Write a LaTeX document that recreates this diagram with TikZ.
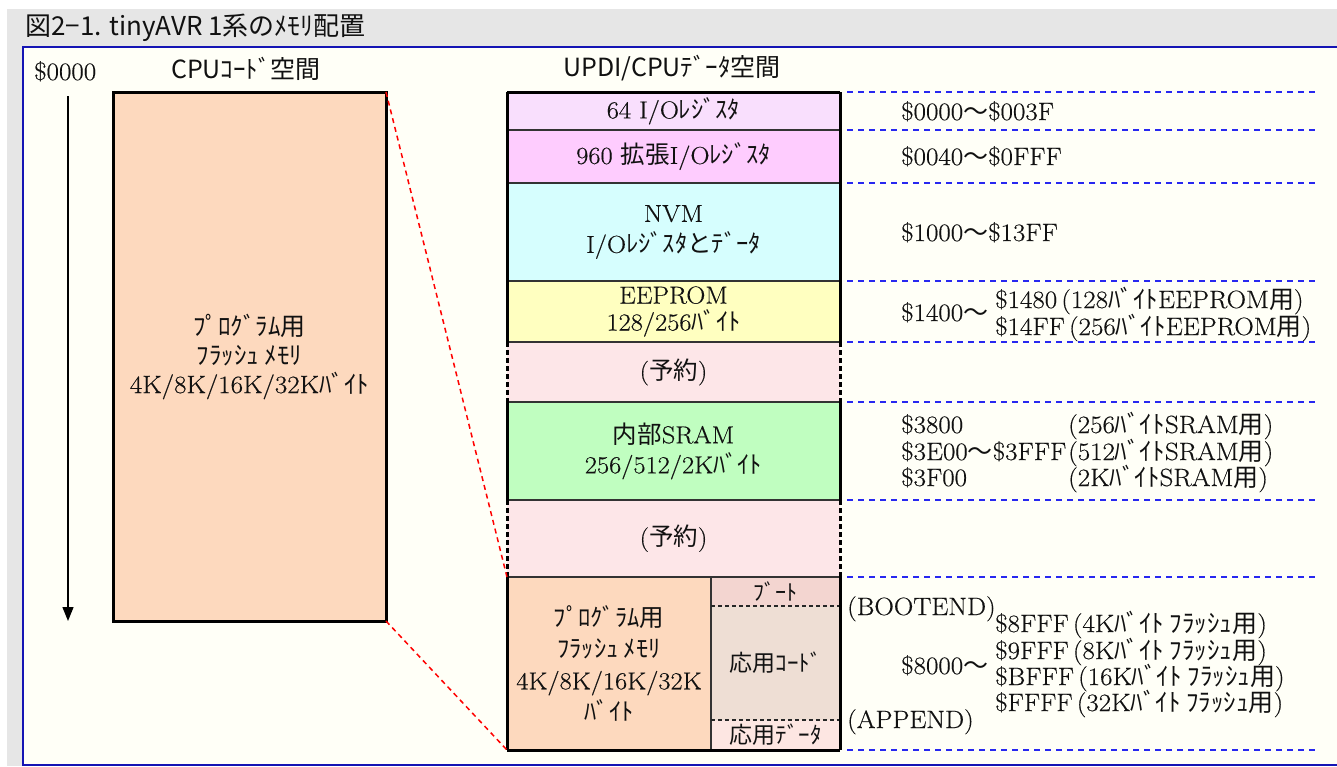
\documentclass[tikz,border=0pt]{standalone}
\usepackage{fontspec}
\setmainfont{Latin Modern Roman}[FakeStretch=1.08,FakeBold=0.4]
\newfontfamily\jpfont{Noto Sans CJK JP}
\usetikzlibrary{arrows.meta}
\newcommand\jpt[1]{{\jpfont #1}}
\newcommand\fsz[2]{\fontsize{#1}{#2}\selectfont}
\definecolor{bggray}{HTML}{E6E6E6}
\definecolor{panelc}{HTML}{FFFFF7}
\definecolor{framec}{HTML}{1414B4}
\definecolor{peach}{HTML}{FDD9BE}
\definecolor{cio}{HTML}{F9DFFD}
\definecolor{cext}{HTML}{FECCFE}
\definecolor{cnvm}{HTML}{D6FEFE}
\definecolor{ceep}{HTML}{FFFFC0}
\definecolor{crsv}{HTML}{FDE6E8}
\definecolor{csram}{HTML}{C0FEC0}
\definecolor{cboot}{HTML}{F3D5D0}
\definecolor{cappc}{HTML}{EEDED4}
\definecolor{cappd}{HTML}{FDE6E2}
\definecolor{guidec}{HTML}{2828F0}
\definecolor{txt}{HTML}{111111}
\begin{document}
\begin{tikzpicture}[x=1pt,y=-1pt,
  blk/.style={inner sep=0pt, outer sep=0pt, anchor=north west, text=txt, align=center, font=\fsz{24.5}{30}},
  sepln/.style={draw=black!80, line width=2pt},
  outerln/.style={draw=black, line width=3pt},
  rsvln/.style={draw=black, line width=3pt, dash pattern=on 5pt off 3pt},
  guideln/.style={draw=guidec, line width=1.6pt, dash pattern=on 6pt off 5pt},
  zoomln/.style={draw=red, line width=1.5pt, dash pattern=on 5pt off 4pt},
  fdiv/.style={draw=black!85, line width=1.2pt, dash pattern=on 4pt off 3pt},
  addr/.style={anchor=base west, inner sep=0pt, text=txt, font=\fsz{25}{28}},
  hdr/.style={inner sep=0pt, text=txt, font=\jpfont\fsz{25}{28}}
]
\useasboundingbox (0,0) rectangle (1337,766);
\fill[white] (0,0) rectangle (1337,766);
\fill[bggray] (7,9) rectangle (1340,766);
\path[fill=panelc, draw=framec, line width=2pt] (23,47) rectangle (1345,765);

% title and headers
\node[hdr, anchor=west, font=\jpfont\fsz{26}{28}] (title) at (25,28) {図2−1. tinyAVR 1系のﾒﾓﾘ配置};
\node[hdr] (h1) at (246,69) {CPUｺｰﾄﾞ空間};
\node[hdr] (h2) at (672,68) {UPDI/CPUﾃﾞｰﾀ空間};

% left code space
\node[blk, fill=peach, draw=black, line width=3pt, minimum width=273pt, minimum height=529pt, font=\fsz{25}{29}] (big) at (113,92)
  {\jpt{ﾌﾟﾛｸﾞﾗﾑ用}\\\jpt{ﾌﾗｯｼｭ ﾒﾓﾘ}\\4K/8K/16K/32K\jpt{ﾊﾞｲﾄ}};
\node[addr] (a0) at (34,80) {\$0000};
\coordinate (arrEnd) at (68,621);
\draw[black, line width=1.3pt, -{Triangle[length=14pt,width=11pt]}] (68,96) -- (arrEnd);

% right data space blocks
\node[blk, fill=cio, minimum width=333pt, minimum height=38pt] (io) at (507,92) {64 I/O\jpt{ﾚｼﾞｽﾀ}};
\node[blk, fill=cext, minimum width=333pt, minimum height=53pt] (ext) at (507,130) {960 \jpt{拡張}I/O\jpt{ﾚｼﾞｽﾀ}};
\node[blk, fill=cnvm, minimum width=333pt, minimum height=98pt, font=\fsz{24.5}{31}] (nvm) at (507,183) {NVM\\I/O\jpt{ﾚｼﾞｽﾀとﾃﾞｰﾀ}};
\node[blk, fill=ceep, minimum width=333pt, minimum height=61pt, font=\fsz{24.5}{27}] (eep) at (507,281) {EEPROM\\128/256\jpt{ﾊﾞｲﾄ}};
\node[blk, fill=crsv, minimum width=333pt, minimum height=60pt] (rsv1) at (507,342) {(\jpt{予約})};
\node[blk, fill=csram, minimum width=333pt, minimum height=98pt, font=\fsz{24.5}{30}] (sram) at (507,402) {\jpt{内部}SRAM\\256/512/2K\jpt{ﾊﾞｲﾄ}};
\node[blk, fill=crsv, minimum width=333pt, minimum height=77pt] (rsv2) at (507,500) {(\jpt{予約})};
\node[blk, fill=peach, minimum width=204pt, minimum height=173pt, font=\fsz{24.5}{31.5}] (fl) at (507,577)
  {\jpt{ﾌﾟﾛｸﾞﾗﾑ用}\\\jpt{ﾌﾗｯｼｭ ﾒﾓﾘ}\\4K/8K/16K/32K\\\jpt{ﾊﾞｲﾄ}};
\node[blk, fill=cboot, minimum width=129pt, minimum height=29pt, font=\jpfont\fsz{22}{26}] (boot) at (711,577) {ﾌﾞｰﾄ};
\node[blk, fill=cappc, minimum width=129pt, minimum height=114pt, font=\jpfont\fsz{23}{26}] (appc) at (711,606) {応用ｺｰﾄﾞ};
\node[blk, fill=cappd, minimum width=129pt, minimum height=30pt, font=\jpfont\fsz{23}{26}] (appd) at (711,720) {応用ﾃﾞｰﾀ};

% separators
\foreach \b in {io,ext,nvm,eep,rsv1,sram,rsv2}
  \draw[sepln] (\b.south west) -- (\b.south east);
\draw[sepln] (fl.north east) -- (fl.south east);
\draw[fdiv] (boot.south west) -- (boot.south east);
\draw[fdiv] (appd.north west) -- (appd.north east);
% outline
\draw[outerln] (io.north west) -- (io.north east);
\draw[outerln] (fl.south west) -- (appd.south east);
\draw[outerln] (io.north west) -- (eep.south west);
\draw[outerln] (io.north east) -- (eep.south east);
\draw[outerln] (sram.north west) -- (sram.south west);
\draw[outerln] (sram.north east) -- (sram.south east);
\draw[outerln] (fl.north west) -- (fl.south west);
\draw[outerln] (boot.north east) -- (appd.south east);
\draw[rsvln] (rsv1.north west) -- (rsv1.south west);
\draw[rsvln] (rsv1.north east) -- (rsv1.south east);
\draw[rsvln] (rsv2.north west) -- (rsv2.south west);
\draw[rsvln] (rsv2.north east) -- (rsv2.south east);

% zoom lines
\draw[zoomln] (big.north east) -- (fl.north west);
\draw[zoomln] (big.south east) -- (fl.south west);

% guide lines
\foreach \b in {io,ext,nvm,eep,rsv1,sram,rsv2}
  \draw[guideln] ([xshift=7pt]\b.north east) -- ++(470,0);
\draw[guideln] ([xshift=7pt]rsv2.south east) -- ++(470,0);
\draw[guideln] ([xshift=7pt]appd.south east) -- ++(470,0);

% addresses
\node[addr] (ad1) at (901,120) {\$0000\jpt{～}\$003F};
\node[addr] (ad2) at (901,165) {\$0040\jpt{～}\$0FFF};
\node[addr] (ad3) at (901,241) {\$1000\jpt{～}\$13FF};
\node[addr] (ad4) at (901,321) {\$1400\jpt{～}};
\node[addr] (ad4a) at (995,308) {\$1480\,(128\jpt{ﾊﾞｲﾄ}EEPROM\jpt{用})};
\node[addr] (ad4b) at (995,335) {\$14FF\,(256\jpt{ﾊﾞｲﾄ}EEPROM\jpt{用})};
\node[addr] (ad5a) at (901,433) {\$3800};
\node[addr] (ad5b) at (901,460) {\$3E00\jpt{～}\$3FFF};
\node[addr] (ad5c) at (901,486) {\$3F00};
\node[addr] (ad5d) at (1068,433) {(256\jpt{ﾊﾞｲﾄ}SRAM\jpt{用})};
\node[addr] (ad5e) at (1068,460) {(512\jpt{ﾊﾞｲﾄ}SRAM\jpt{用})};
\node[addr] (ad5f) at (1068,486) {(2K\jpt{ﾊﾞｲﾄ}SRAM\jpt{用})};
\node[addr] (bootend) at (847,615) {(BOOTEND)};
\node[addr] (append) at (847,728) {(APPEND)};
\node[addr] (ad6) at (901,674) {\$8000\jpt{～}};
\node[addr] (ad6a) at (995,632) {\$8FFF\,(4K\jpt{ﾊﾞｲﾄ ﾌﾗｯｼｭ用})};
\node[addr] (ad6b) at (995,659) {\$9FFF\,(8K\jpt{ﾊﾞｲﾄ ﾌﾗｯｼｭ用})};
\node[addr] (ad6c) at (995,685) {\$BFFF\,(16K\jpt{ﾊﾞｲﾄ ﾌﾗｯｼｭ用})};
\node[addr] (ad6d) at (995,711) {\$FFFF\,(32K\jpt{ﾊﾞｲﾄ ﾌﾗｯｼｭ用})};
\end{tikzpicture}
\end{document}
